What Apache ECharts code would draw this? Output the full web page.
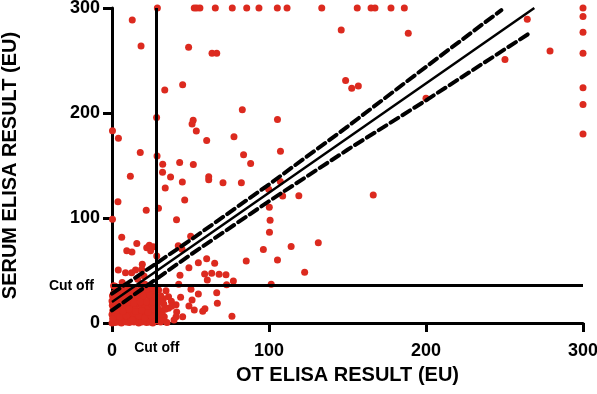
<!DOCTYPE html>
<html>
<head>
<meta charset="utf-8">
<script src="https://cdn.jsdelivr.net/npm/echarts@6/dist/echarts.min.js"></script>
<style>
html,body{margin:0;padding:0;background:#fff;}
#chart{width:597px;height:394px;}
</style>
</head>
<body>
<div id="chart"></div>
<script>
// ---- data ----
const xTicks = [0, 100, 200, 300];
const yTicks = [0, 100, 200, 300];
const xAxisTitle = 'OT ELISA RESULT (EU)';
const yAxisTitle = 'SERUM ELISA RESULT (EU)';
const cutOffLabel = 'Cut off';
const xCutOff = 28.5;
const yCutOff = 35.5;

// points saturated at the top of the serum scale (y = 300)
const topRowX = [28.9, 52.4, 54, 56, 65.8, 76.6, 85.8, 93.6, 105.3, 111.5, 133.6, 156.2, 165, 167.5, 177.7, 186.2];
// points saturated at the right of the OT scale (x = 300)
const rightColY = [300, 292, 277, 257, 224, 208, 180];

// scattered points [OT, serum]
const scatterPts = [
  [12.9,288.6],[18.5,263.8],[48.8,262.7],[63.7,256.8],[66.7,256.8],[146,279],[188.7,276],[264.5,289.2],[279,259],[250.3,251],
  [33.6,222],[45,227],[148.8,231],[152.7,223.5],[156.9,225.7],[83,203],[200,214],
  [0.3,183],[4.1,176],[28.4,195.7],[51.7,193.2],[51,189.5],[53.7,182.8],[60.3,173.7],[77.7,177.3],[105.4,193.8],[107.3,163.5],
  [18,162.5],[28.7,159],[83.8,160.2],[88.3,152],[32.3,151.2],[43.1,152.8],[51.8,150.9],[11.7,139.8],[32.2,143.5],[37.3,139],
  [44.8,134.2],[61.6,139.3],[61.6,136.5],[70.7,133.6],[82.4,133.6],[33.9,128.6],[107.2,134.8],[99.8,127.4],[108.7,121],[119,121.2],
  [166.4,122],[3.8,115.5],[46.3,117.2],[21.8,107.5],[29.6,109.4],[100.2,110.3],[0.3,98.8],[41.1,98.4],[100.7,97.9],[100.3,86.4],
  [50.1,82.6],[6.2,81.7],[15.8,75.6],[96.4,70.1],[114.1,72.9],[131.4,76.5],[105.4,60],[85.5,59],[122.7,48.3],[101.4,36.9],
  [9.4,68.9],[12.7,67.6],[22.1,71.7],[24.6,68.9],[23.8,74],[26.3,72.7],[42.2,73.6],[44.6,70.2],[55,57.4],[60.3,61.2],[65.4,56.9],
  [49,52.7],[19.3,55.9],[4,50.5],[8.6,47.9],[12.5,47.9],[15,50.5],[18.9,51.1],[20.4,44.8],[16.4,41.6],[1,35.5],[6.5,38.5],[28.5,63.8],
  [21,37],[24,33],
  [43.3,45.4],[59,46.7],[63.5,47.3],[60.7,41],[68.2,46.4],[72.6,46],[73,36.5],[77.3,40],[42.5,37],
  [34.4,30.8],[29.7,31.4],[50.3,32.1],[55,27.6],[66.7,28.9],[32.7,23.1],[43.7,24.5],[51,21.9],[37.8,20.7],[40.8,17.4],[49,16.2],
  [67.1,18.8],[59.2,13.6],[52.4,12.4],[57.8,11.1],[41.2,10.5],[40.8,6],[39.5,2.9],[45,6],[33.3,6],[76.4,6.4]
];
// dense cluster near the origin
const clusterPts = [
  [0,0],[1,2],[2,0.5],[3,4],[4,1],[5,3],[6,0],[7,5],[8,2],[9,1],[10,4],[11,0.5],[12,3],[13,6],[14,1],[15,2],[16,5],[17,0],[18,3],
  [19,1],[20,6],[21,2],[22,0.5],[23,4],[24,1],[25,3],[26,0],[27,5],[29,2],[31,1],[33,3],[35,0.5],
  [0,8],[2,10],[4,7],[6,9],[8,11],[10,8],[12,10],[14,9],[16,12],[18,8],[20,11],[22,9],[24,12],[26,8],[28,10],[30,9],[32,12],[36,14],
  [1,14],[3,16],[5,13],[7,17],[9,15],[11,18],[13,14],[15,16],[17,19],[19,15],[21,17],[23,14],[25,18],[27,16],
  [0,21],[2,23],[4,20],[6,24],[8,22],[10,25],[12,21],[14,24],[16,22],[18,26],[20,23],[22,27],[24,22],[26,25],[28,21],
  [1,28],[3,30],[5,27],[7,31],[9,29],[11,32],[13,28],[15,31],[17,29],[19,33],[21,30],[23,28],[25,32],[27,29],
  [2,35],[8,36],[12,34],[18,36],[24,35],
  [30,5],[32,8],[34,13],[38,16],[36,25],[31,26],[33,18],
  [0.5,12],[0.3,26],[0.4,4],[0.2,17],
  [5,6],[9,7],[13,3],[17,7],[21,5],[25,7],[3,12],[7,11],[11,13],[15,11],[19,12],[23,10],[27,13],
  [2,19],[6,18],[10,20],[14,19],[18,20],[22,20],[26,20],[4,25],[8,27],[12,26],[16,27],[20,26],[24,27],
  [6,31],[10,30],[14,33],[22,32],[26,33],[29,15],[31,20],[28,25]
];

// regression line and its confidence band
const fitLine = [[0,20],[269,300]];
const upperBand = [[0,28],[50,79],[100,132],[150,187],[200,244],[248,298]];
const lowerBand = [[0,12],[50,65],[100,116],[150,165],[200,212],[267,277]];

// ---- build ----
const allPts = []
  .concat(topRowX.map(x => [x, 300]))
  .concat(rightColY.map(y => [300, y]))
  .concat(scatterPts)
  .concat(clusterPts);

const FONT = 'Liberation Sans, Arial, Helvetica, sans-serif';
const RED = '#dc2a1f';

function axisCommon(ticks, margin) {
  return {
    type: 'value', min: ticks[0], max: ticks[ticks.length - 1], interval: ticks[1] - ticks[0],
    axisLine: { show: true, onZero: false, lineStyle: { color: '#000', width: 3 } },
    axisTick: { show: true, length: 9, lineStyle: { color: '#000', width: 3 } },
    axisLabel: { color: '#000', fontSize: 18, fontWeight: 'bold', fontFamily: FONT, margin: margin },
    splitLine: { show: false },
    nameLocation: 'middle',
    nameTextStyle: { color: '#000', fontSize: 20, fontWeight: 'bold', fontFamily: FONT }
  };
}

const chart = echarts.init(document.getElementById('chart'), null, { renderer: 'canvas' });
chart.setOption({
  animation: false,
  backgroundColor: '#fff',
  grid: { left: 112, right: 14, top: 8, bottom: 71, containLabel: false, outerBoundsMode: 'none' },
  xAxis: Object.assign(axisCommon(xTicks, 19), { name: xAxisTitle, nameGap: 42 }),
  yAxis: Object.assign(axisCommon(yTicks, 12), { name: yAxisTitle, nameGap: 92 }),
  series: [
    {
      type: 'scatter', data: [], z: 1, silent: true,
      markLine: {
        silent: true, symbol: 'none', animation: false,
        lineStyle: { color: '#000', width: 3, type: 'solid' },
        label: { show: true, formatter: cutOffLabel, color: '#000', fontSize: 14, fontWeight: 'bold', fontFamily: FONT, position: 'start', distance: 18 },
        emphasis: { disabled: true },
        data: [ { yAxis: yCutOff }, { xAxis: xCutOff } ]
      }
    },
    {
      type: 'scatter', data: allPts, symbol: 'circle', symbolSize: 7, clip: false, z: 2,
      itemStyle: { color: RED, opacity: 1 }
    },
    {
      type: 'line', data: fitLine, showSymbol: false, symbol: 'none', z: 3,
      lineStyle: { color: '#000', width: 2.5 }
    },
    {
      type: 'line', data: upperBand, showSymbol: false, symbol: 'none', z: 3,
      lineStyle: { color: '#000', width: 4, type: [9, 5], cap: 'round' }
    },
    {
      type: 'line', data: lowerBand, showSymbol: false, symbol: 'none', z: 3,
      lineStyle: { color: '#000', width: 4, type: [9, 5], cap: 'round' }
    }
  ]
});
</script>
</body>
</html>
